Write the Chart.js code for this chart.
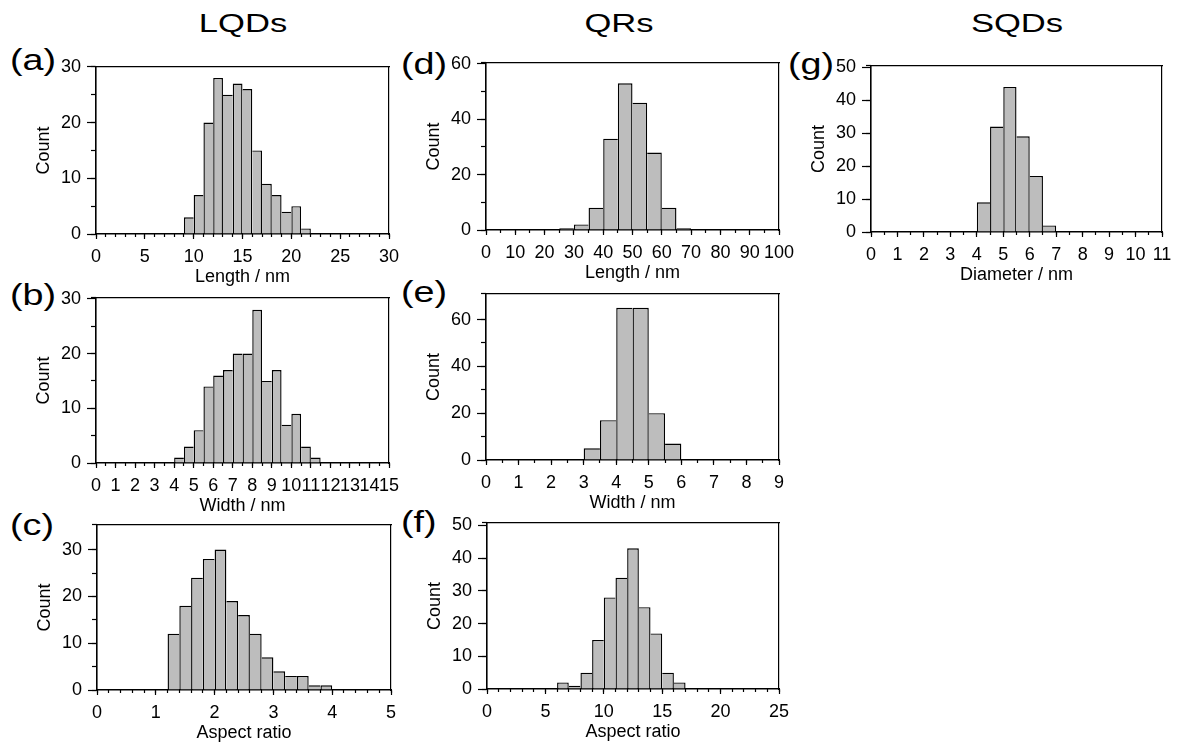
<!DOCTYPE html>
<html><head><meta charset="utf-8">
<script src="https://cdn.jsdelivr.net/npm/chart.js@4.4.1/dist/chart.umd.min.js"></script>
<style>
html,body{margin:0;padding:0;background:#fff;width:1177px;height:751px;overflow:hidden;}
body{position:relative;font-family:'Liberation Sans',Arial,sans-serif;}
.t{position:absolute;color:#000;white-space:nowrap;line-height:1;}
.col{width:200px;text-align:center;font-size:26px;transform:scaleX(1.33);transform-origin:50% 50%;}
.pl{font-size:29px;transform:scaleX(1.3);transform-origin:0 50%;}
canvas{position:absolute;}
</style></head><body>
<div class="t col" style="left:143px;top:10px;">LQDs</div>
<div class="t col" style="left:519px;top:10px;">QRs</div>
<div class="t col" style="left:917px;top:10px;">SQDs</div>
<div class="t pl" style="left:10px;top:46px;">(a)</div>
<div class="t pl" style="left:10px;top:281px;">(b)</div>
<div class="t pl" style="left:10px;top:511px;">(c)</div>
<div class="t pl" style="left:401px;top:50px;">(d)</div>
<div class="t pl" style="left:401px;top:278px;">(e)</div>
<div class="t pl" style="left:401px;top:508px;">(f)</div>
<div class="t pl" style="left:788px;top:50px;">(g)</div>
<canvas id="ca"></canvas><canvas id="cb"></canvas><canvas id="cc"></canvas>
<canvas id="cd"></canvas><canvas id="ce"></canvas><canvas id="cf"></canvas><canvas id="cg"></canvas>
<script>
// ---------------- data ----------------
// (a) LQDs length, 1 nm bins (bin centres)
const lqdLengthBins   = [9.5,10.5,11.5,12.5,13.5,14.5,15.5,16.5,17.5,18.5,19.5,20.5,21.5];
const lqdLengthCounts = [3,7,20,28,25,27,26,15,9,7,4,5,1];
const lqdLengthXTicks = [0,5,10,15,20,25,30];
const lqdLengthYTicks = [0,10,20,30];
// (b) LQDs width, 0.5 nm bins
const lqdWidthBins    = [4.25,4.75,5.25,5.75,6.25,6.75,7.25,7.75,8.25,8.75,9.25,9.75,10.25,10.75,11.25];
const lqdWidthCounts  = [1,3,6,14,16,17,20,20,28,15,17,7,9,3,1];
const lqdWidthXTicks  = [0,1,2,3,4,5,6,7,8,9,10,11,12,13,14,15];
const lqdWidthYTicks  = [0,10,20,30];
// (c) LQDs aspect ratio, 0.2 bins
const lqdArBins       = [1.3,1.5,1.7,1.9,2.1,2.3,2.5,2.7,2.9,3.1,3.3,3.5,3.7,3.9];
const lqdArCounts     = [12,18,24,28,30,19,16,12,7,4,3,3,1,1];
const lqdArXTicks     = [0,1,2,3,4,5];
const lqdArYTicks     = [0,10,20,30];
// (d) QRs length, 5 nm bins
const qrLengthBins    = [27.5,32.5,37.5,42.5,47.5,52.5,57.5,62.5,67.5];
const qrLengthCounts  = [0.6,2,8,33,53,46,28,8,0.6];
const qrLengthXTicks  = [0,10,20,30,40,50,60,70,80,90,100];
const qrLengthYTicks  = [0,20,40,60];
// (e) QRs width, 0.5 nm bins
const qrWidthBins     = [3.25,3.75,4.25,4.75,5.25,5.75];
const qrWidthCounts   = [5,17,65,65,20,7];
const qrWidthXTicks   = [0,1,2,3,4,5,6,7,8,9];
const qrWidthYTicks   = [0,20,40,60];
// (f) QRs aspect ratio, 1 bins
const qrArBins        = [6.5,7.5,8.5,9.5,10.5,11.5,12.5,13.5,14.5,15.5,16.5];
const qrArCounts      = [2,1,5,15,28,34,43,25,17,5,2];
const qrArXTicks      = [0,5,10,15,20,25];
const qrArYTicks      = [0,10,20,30,40,50];
// (g) SQDs diameter, 0.5 nm bins
const sqdDiamBins     = [4.25,4.75,5.25,5.75,6.25,6.75];
const sqdDiamCounts   = [9,32,44,29,17,2];
const sqdDiamXTicks   = [0,1,2,3,4,5,6,7,8,9,10,11];
const sqdDiamYTicks   = [0,10,20,30,40,50];

// ---------------- layout / styling ----------------
Chart.defaults.font.family = "'Liberation Sans', Arial, sans-serif";
Chart.defaults.color = '#000';
Chart.defaults.animation = false;

const YW = 70, PT = 14, PR = 24, XH = 56, BW = 1.4;
const panels = [
  {id:'ca', L:96,  T:64,  R:389,  B:234, bins:lqdLengthBins, counts:lqdLengthCounts, xr:[0,30],  xt:lqdLengthXTicks, xm:1,   yr:[0,30],   yt:lqdLengthYTicks, ym:5,  title:'Length / nm'},
  {id:'cb', L:96,  T:295, R:389,  B:463, bins:lqdWidthBins,  counts:lqdWidthCounts,  xr:[0,15],  xt:lqdWidthXTicks,  xm:0.5, yr:[0,30.2], yt:lqdWidthYTicks,  ym:5,  title:'Width / nm'},
  {id:'cc', L:97,  T:522, R:391,  B:690, bins:lqdArBins,     counts:lqdArCounts,     xr:[0,5],   xt:lqdArXTicks,     xm:0.2, yr:[0,35.3], yt:lqdArYTicks,     ym:5,  title:'Aspect ratio'},
  {id:'cd', L:486, T:60,  R:779,  B:230, bins:qrLengthBins,  counts:qrLengthCounts,  xr:[0,100], xt:qrLengthXTicks,  xm:5,   yr:[0,60.4], yt:qrLengthYTicks,  ym:10, title:'Length / nm'},
  {id:'ce', L:486, T:291, R:779,  B:460, bins:qrWidthBins,   counts:qrWidthCounts,   xr:[0,9],   xt:qrWidthXTicks,   xm:0.5, yr:[0,71],   yt:qrWidthYTicks,   ym:10, title:'Width / nm'},
  {id:'cf', L:487, T:520, R:779,  B:689, bins:qrArBins,      counts:qrArCounts,      xr:[0,25],  xt:qrArXTicks,      xm:1,   yr:[0,50.8], yt:qrArYTicks,      ym:10, title:'Aspect ratio'},
  {id:'cg', L:871, T:63,  R:1162, B:232, bins:sqdDiamBins,   counts:sqdDiamCounts,   xr:[0,11],  xt:sqdDiamXTicks,   xm:0.5, yr:[0,50.4], yt:sqdDiamYTicks,   ym:10, title:'Diameter / nm'}
];

function edgeWidths(ctx) {
  const d = ctx.dataset.data, i = ctx.dataIndex;
  const h = d[i].y;
  const prev = i > 0 ? d[i-1].y : -1;
  const next = i < d.length - 1 ? d[i+1].y : -1;
  return {top: BW, bottom: 0, left: h >= prev ? BW : 0, right: h > next ? BW : 0};
}

panels.forEach(p => {
  const cv = document.getElementById(p.id);
  const w = p.R - p.L + YW + PR, h = p.B - p.T + PT + XH;
  cv.width = w; cv.height = h;
  cv.style.left = (p.L - YW) + 'px'; cv.style.top = (p.T - PT) + 'px';
  cv.style.width = w + 'px'; cv.style.height = h + 'px';
  const pts = p.bins.map((b, i) => ({x: b, y: p.counts[i]}));
  const fixed = (v) => (s) => { s.ticks = v.map(t => ({value: t})); };
  new Chart(cv, {
    type: 'bar',
    data: {datasets: [{
      data: pts, backgroundColor: '#bdbdbd', borderColor: '#000',
      borderWidth: edgeWidths, borderSkipped: 'start', inflateAmount: 0,
      barPercentage: 1, categoryPercentage: 1
    }]},
    options: {
      responsive: false, devicePixelRatio: 1, events: [],
      layout: {padding: {top: PT, right: PR, left: 0, bottom: 0}},
      plugins: {legend: {display: false}, tooltip: {enabled: false}},
      scales: {
        x: {type: 'linear', position: 'bottom', weight: 1, min: p.xr[0], max: p.xr[1], offset: false,
            afterBuildTicks: fixed(p.xt), afterFit: s => { s.height = XH; },
            grid: {offset: false, drawOnChartArea: false, tickLength: 5, tickColor: '#000', tickWidth: 1.2},
            border: {display: true, color: '#000', width: 1.6},
            ticks: {autoSkip: false, maxRotation: 0, minRotation: 0, padding: 7.7, font: {size: 18}, callback: v => String(v)},
            title: {display: true, text: p.title, font: {size: 18}, padding: {top: 0, bottom: 2.2}}},
        xm: {type: 'linear', position: 'bottom', weight: 0, min: p.xr[0], max: p.xr[1], offset: false,
             afterFit: s => { s.height = 0; },
             grid: {offset: false, drawOnChartArea: false, tickLength: 3, tickColor: '#000', tickWidth: 1.2},
             border: {display: false}, ticks: {display: false, stepSize: p.xm, autoSkip: false}},
        xt: {type: 'linear', position: 'top', min: p.xr[0], max: p.xr[1], afterFit: s => { s.height = 0; },
             grid: {display: false}, border: {display: true, color: '#000', width: 1.2}, ticks: {display: false}},
        y: {type: 'linear', position: 'left', weight: 1, min: p.yr[0], max: p.yr[1],
            afterBuildTicks: fixed(p.yt), afterFit: s => { s.width = YW; },
            grid: {drawOnChartArea: false, tickLength: 9, tickColor: '#000', tickWidth: 1.2},
            border: {display: true, color: '#000', width: 1.6},
            ticks: {padding: 6, font: {size: 18}, callback: v => String(v)},
            title: {display: true, text: 'Count', font: {size: 18}, padding: {top: 7.2, bottom: 0}}},
        ym: {type: 'linear', position: 'left', weight: 0, min: p.yr[0], max: p.yr[1],
             afterFit: s => { s.width = 0; },
             grid: {drawOnChartArea: false, tickLength: 5, tickColor: '#000', tickWidth: 1.2},
             border: {display: false}, ticks: {display: false, stepSize: p.ym}},
        yr: {type: 'linear', position: 'right', min: p.yr[0], max: p.yr[1], afterFit: s => { s.width = 0; },
             grid: {display: false}, border: {display: true, color: '#000', width: 1.2}, ticks: {display: false}}
      }
    }
  });
});
</script>
</body></html>
